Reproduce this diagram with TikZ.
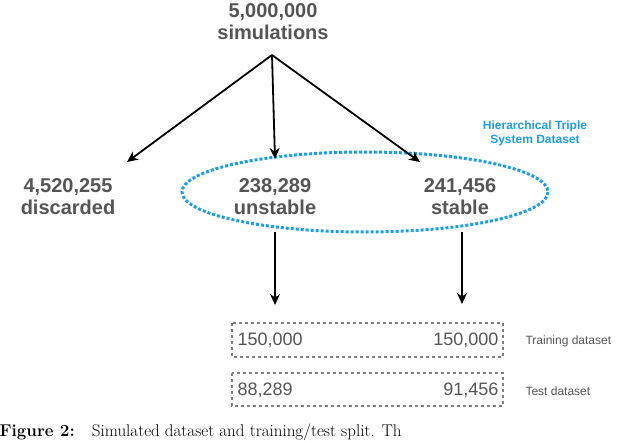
\documentclass[tikz,border=0pt]{standalone}
\usepackage{fontspec}
\newfontfamily\hv{Liberation Sans}
\usetikzlibrary{arrows.meta}
\definecolor{tg}{HTML}{555555}
\definecolor{db}{HTML}{1A9EF0}
\begin{document}
\begin{tikzpicture}[x=1pt,y=-1pt,
  big/.style={font=\hv\bfseries\fontsize{20}{22}\selectfont,text=tg,align=center},
  num/.style={font=\hv\fontsize{18}{20}\selectfont,text=tg},
  lab/.style={font=\hv\fontsize{12}{14}\selectfont,text=tg,anchor=west},
  arr/.style={-{Stealth[length=11pt,width=10pt]},line width=1.8pt},
  box/.style={draw=gray,dashed,line width=1.5pt}]
\useasboundingbox (0,0) rectangle (640,442);
\node[big] (top) at (273,22) {5,000,000\\simulations};
\node[big] (dis) at (68,197) {4,520,255\\discarded};
\node[big] (uns) at (275,197) {238,289\\unstable};
\node[big] (sta) at (460,197) {241,456\\stable};
\draw[db,dotted,line width=3pt] (365,192) ellipse (183 and 40);
\node[font=\hv\bfseries\fontsize{12}{14}\selectfont,text=db,align=center] (hts) at (535,133) {Hierarchical Triple\\System Dataset};
\coordinate (t0) at (272,55);
\coordinate (a1) at (127,162);
\coordinate (a2) at (275,159);
\coordinate (a3) at (420,162);
\draw[arr] (t0) -- (a1);
\draw[arr] (t0) -- (a2);
\draw[arr] (t0) -- (a3);
\coordinate (u0) at (275,232); \coordinate (u1) at (275,305);
\coordinate (s0) at (462,232); \coordinate (s1) at (462,304);
\draw[arr] (u0) -- (u1);
\draw[arr] (s0) -- (s1);
\draw[box] (232,323) rectangle (503,357);
\draw[box] (232,373) rectangle (503,406);
\node[num,anchor=west] (tr1) at (234,340) {150,000};
\node[num,anchor=east] (tr2) at (502,340) {150,000};
\node[num,anchor=west] (te1) at (234,390) {88,289};
\node[num,anchor=east] (te2) at (502,390) {91,456};
\node[lab] (trl) at (522,341) {Training dataset};
\node[lab] (tel) at (522,391) {Test dataset};
\node[anchor=west,font=\fontsize{17}{19}\selectfont] (cap) at (-4,432) {\textbf{Figure 2:}\quad Simulated dataset and training/test split. Th};
\end{tikzpicture}
\end{document}
